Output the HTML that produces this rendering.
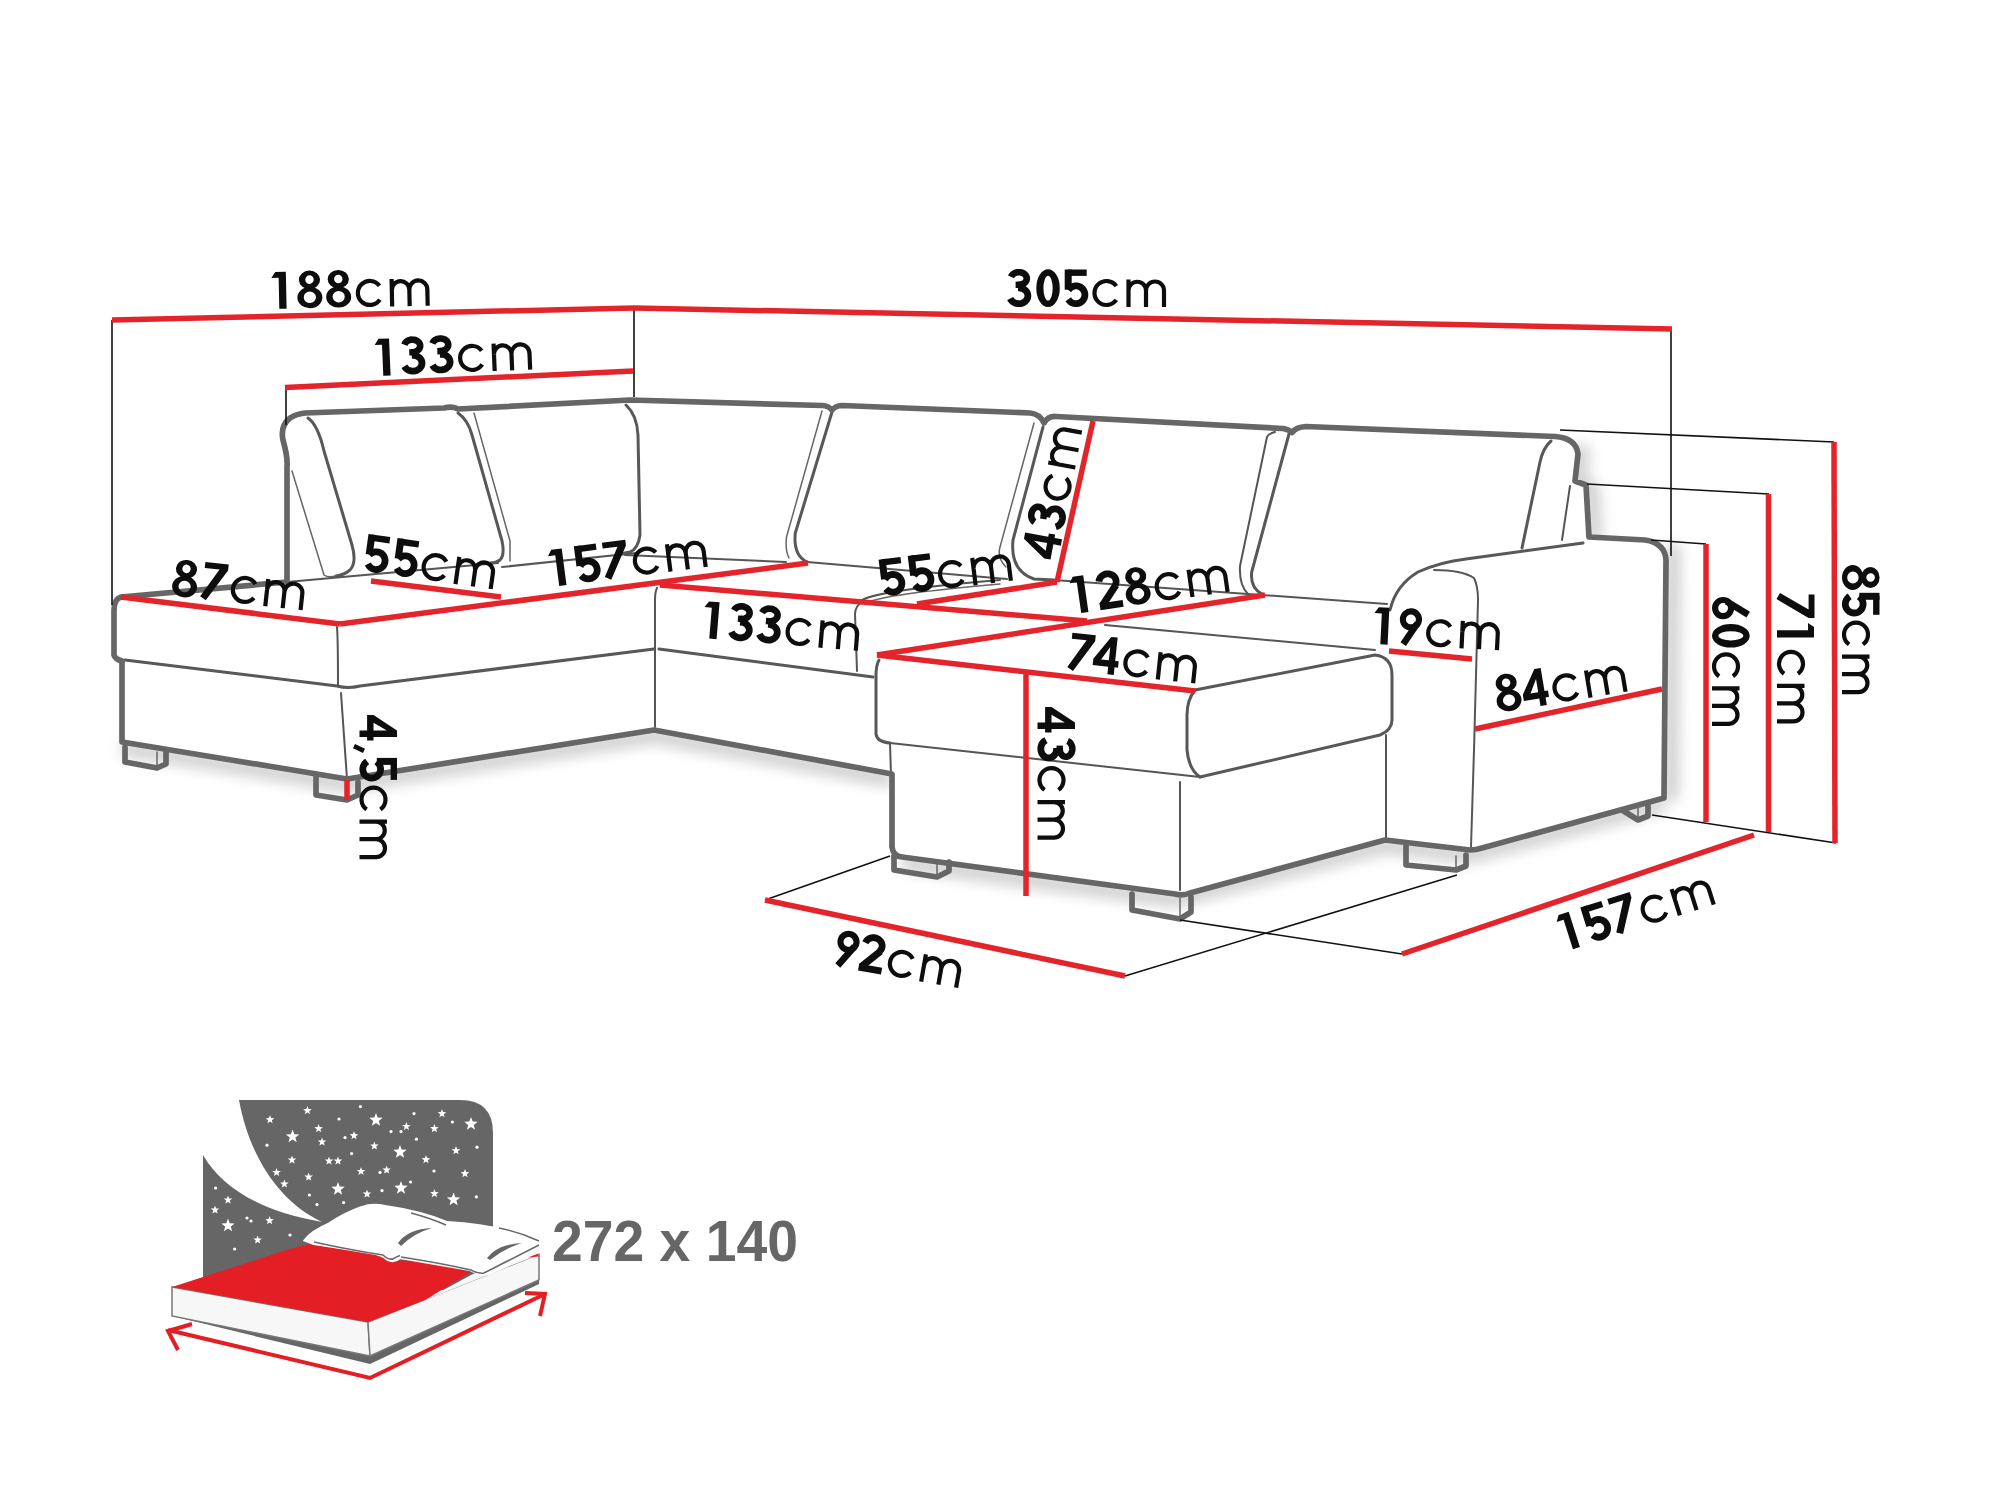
<!DOCTYPE html>
<html><head><meta charset="utf-8"><style>html,body{margin:0;padding:0;background:#fff;width:2000px;height:1500px;overflow:hidden}svg{display:block}</style></head>
<body><svg width="2000" height="1500" viewBox="0 0 2000 1500">
<defs><g id="cm" fill="none" stroke="#0d0d0d" stroke-width="4.2"><path d="M23.1,-20.9 A12,12 0 1 0 23.1,-7.1"/><path d="M35.3,0 V-27.5 M35.3,-16.5 A8.75,8.75 0 0 1 52.8,-16.5 V0 M52.8,-16.5 A9,9 0 0 1 70.8,-16.5 V0"/></g>
<filter id="sh" x="-20%" y="-20%" width="140%" height="140%"><feGaussianBlur stdDeviation="7"/></filter>
<style>.d{font-family:"Liberation Sans",sans-serif;font-weight:bold;font-size:53.5px;fill:#0d0d0d;stroke:#0d0d0d;stroke-width:0.9px}</style>
</defs>
<rect width="2000" height="1500" fill="#fff"/>
<g filter="url(#sh)" opacity="0.5" fill="none" stroke="#999" stroke-width="14"><path d="M122,748 L347,785 L654,736 L892,780"/><path d="M902,863 L1175,900 L1385,846 L1470,856 L1664,804"/><path d="M1673,545 L1671,800"/><path d="M1582,445 L1580,482 L1592,490 L1595,540"/></g>
<path d="M121,597 L287,582 L287,467 Q288,458 283,440 Q280,426 290,418 Q296,414 305,413 L444,408 Q452,406 458,409 L630,400 L822,405.5 Q829,406 832,410 Q835,406 842,405.5 L1030,413 Q1040,414 1044,423 Q1048,416 1056,416.5 L1283,428.5 Q1289,429.5 1292,432.5 Q1296,427 1306,426.5 L1555,436.5 Q1576,438 1578,454 L1575,481 L1586,485 L1589,537 L1645,540 Q1665,543 1666,560 L1664,798 L1482,848 Q1476,850 1470,850 L1385,840 L1190,893 Q1183,896 1175,894 L902,857 Q893,856 892,847 L892,774 L654,730 L347,779 L122,742 L122,661 Q115,659 114,655 L114,610 Q114,599 121,597 Z" fill="#fff"/>
<g fill="none" stroke-linejoin="round"><path d="M125,660 L337,686 Q348,689 360,686 L654,649" stroke="#585858" stroke-width="3.0" stroke-linecap="round"/><path d="M337,627 Q338,640 338,686" stroke="#555" stroke-width="2.0" stroke-linecap="round"/><path d="M341,693 L347,779" stroke="#555" stroke-width="2.0" stroke-linecap="round"/><path d="M308,418 Q318,425 324,451 L352,545 Q357,563 350,570 Q344,575 336,576" stroke="#585858" stroke-width="3.0" stroke-linecap="round"/><path d="M292,471 L324,575 Q328,578 336,576" stroke="#666" stroke-width="1.5" stroke-linecap="round"/><path d="M287,582 L498,563" stroke="#555" stroke-width="2.0" stroke-linecap="round"/><path d="M458,413 Q468,420 472,435 L502,541 Q505,555 500,560 Q496,563 490,563" stroke="#585858" stroke-width="3.0" stroke-linecap="round"/><path d="M474,413 L510,541 L510,561" stroke="#666" stroke-width="1.5" stroke-linecap="round"/><path d="M502,567 L636,553" stroke="#555" stroke-width="2.0" stroke-linecap="round"/><path d="M626,405 Q637,415 638,435 L640,535 Q638,549 630,552 L620,554" stroke="#585858" stroke-width="3.0" stroke-linecap="round"/><path d="M625,555 L786,562" stroke="#555" stroke-width="2.0" stroke-linecap="round"/><path d="M807,562 L1007,579" stroke="#555" stroke-width="2.0" stroke-linecap="round"/><path d="M1054,580 L1387,604" stroke="#555" stroke-width="2.0" stroke-linecap="round"/><path d="M832,412 L795.3,533 Q793,555 807,562" stroke="#585858" stroke-width="3.0" stroke-linecap="round"/><path d="M822,411 L786.5,537 Q785,550 789,558" stroke="#666" stroke-width="1.5" stroke-linecap="round"/><path d="M1043,427 L1013,540 Q1010,571 1034,579 L1054,580" stroke="#585858" stroke-width="3.0" stroke-linecap="round"/><path d="M1034,423 L1000,547 Q997,558 1006,567" stroke="#666" stroke-width="1.5" stroke-linecap="round"/><path d="M1289,434 L1251.7,572 Q1250,588 1262,594" stroke="#585858" stroke-width="3.0" stroke-linecap="round"/><path d="M1275,432 Q1268,434 1267,437 L1240,566 Q1239,585 1248,594" stroke="#555" stroke-width="2.0" stroke-linecap="round"/><path d="M1551,441 Q1543,448 1540,462 L1522,548" stroke="#585858" stroke-width="3.0" stroke-linecap="round"/><path d="M1570,486 L1562,540" stroke="#555" stroke-width="2.0" stroke-linecap="round"/><path d="M657,588 Q655,592 655,600 L655,727" stroke="#555" stroke-width="2.0" stroke-linecap="round"/><path d="M659,649 L873,677" stroke="#585858" stroke-width="3.0" stroke-linecap="round"/><path d="M863,601 Q855,606 855,614 L857,671" stroke="#555" stroke-width="2.0" stroke-linecap="round"/><path d="M862,600 Q880,590 1000,580" stroke="#555" stroke-width="2.0" stroke-linecap="round"/><path d="M866,603 Q884,594 1000,584" stroke="#666" stroke-width="1.5" stroke-linecap="round"/><path d="M879,660 Q876,665 876,676 L876,734 Q877,742 890,743" stroke="#585858" stroke-width="3.0" stroke-linecap="round"/><path d="M890,743 L891,775" stroke="#555" stroke-width="2.0" stroke-linecap="round"/><path d="M890,743 L1200,777" stroke="#555" stroke-width="2.0" stroke-linecap="round"/><path d="M1105,625 L1375,650" stroke="#555" stroke-width="2.0" stroke-linecap="round"/><path d="M1195,690 L1375,655 Q1392,657 1392,675 L1392,720 Q1392,730 1380,735 L1200,777" stroke="#585858" stroke-width="3.0" stroke-linecap="round"/><path d="M1195,690 Q1187,700 1187,715 L1187,750 Q1189,770 1200,777" stroke="#585858" stroke-width="3.0" stroke-linecap="round"/><path d="M1180,782 L1180,890" stroke="#555" stroke-width="2.0" stroke-linecap="round"/><path d="M1386,735 L1386,840" stroke="#555" stroke-width="2.0" stroke-linecap="round"/><path d="M1390,610 Q1396,585 1418,572 Q1440,562 1466,559 L1583,543" stroke="#585858" stroke-width="3.0" stroke-linecap="round"/><path d="M1434,570 Q1462,570 1474,578 Q1478,586 1478,600 L1474,750 L1471,847" stroke="#555" stroke-width="2.0" stroke-linecap="round"/><path d="M157,752 L157,767" stroke="#666" stroke-width="1.5" stroke-linecap="round"/><path d="M347,782 L347,799" stroke="#666" stroke-width="1.5" stroke-linecap="round"/><path d="M937,862 L937,877" stroke="#666" stroke-width="1.5" stroke-linecap="round"/><path d="M1180,898 L1180,918" stroke="#666" stroke-width="1.5" stroke-linecap="round"/><path d="M1456,856 L1456,869" stroke="#666" stroke-width="1.5" stroke-linecap="round"/><path d="M1638,808 L1638,819" stroke="#666" stroke-width="1.5" stroke-linecap="round"/><path d="M121,597 L287,582 L287,467 Q288,458 283,440 Q280,426 290,418 Q296,414 305,413 L444,408 Q452,406 458,409 L630,400 L822,405.5 Q829,406 832,410 Q835,406 842,405.5 L1030,413 Q1040,414 1044,423 Q1048,416 1056,416.5 L1283,428.5 Q1289,429.5 1292,432.5 Q1296,427 1306,426.5 L1555,436.5 Q1576,438 1578,454 L1575,481 L1586,485 L1589,537 L1645,540 Q1665,543 1666,560 L1664,798 L1482,848 Q1476,850 1470,850 L1385,840 L1190,893 Q1183,896 1175,894 L902,857 Q893,856 892,847 L892,774 L654,730 L347,779 L122,742 L122,661 Q115,659 114,655 L114,610 Q114,599 121,597 Z" stroke="#666" stroke-width="5.7" stroke-linecap="round"/><path d="M125,747 L125,762 L157,768 L166,764 L166,752" stroke="#666" stroke-width="5.7" stroke-linecap="round"/><path d="M316,777 L316,795 L347,800 L358,795 L358,782" stroke="#666" stroke-width="5.7" stroke-linecap="round"/><path d="M894,856 L894,870 L937,877 L949,871 L949,862" stroke="#666" stroke-width="5.7" stroke-linecap="round"/><path d="M1132,894 L1132,910 L1180,919 L1191,912 L1191,897" stroke="#666" stroke-width="5.7" stroke-linecap="round"/><path d="M1406,846 L1406,865 L1456,870 L1466,866 L1466,855" stroke="#666" stroke-width="5.7" stroke-linecap="round"/><path d="M1622,810 L1638,820 L1648,816 L1648,806" stroke="#666" stroke-width="5.7" stroke-linecap="round"/></g>
<g fill="none" stroke="#111" stroke-width="1.6"><path d="M112,320 L112,605"/><path d="M286,387 L286,425"/><path d="M634,308 L634,397"/><path d="M1671,329 L1671,556"/><path d="M1560,430 L1834,442"/><path d="M1587,484 L1769,494"/><path d="M1651,540 L1706,544"/><path d="M1652,815 L1836,843"/><path d="M765,900 L890,856"/><path d="M1125,976 L1457,875"/><path d="M1180,920 L1402,954"/></g>
<g fill="none" stroke="#e3242b" stroke-width="5.5"><path d="M112,320 L634,308"/><path d="M634,308 L1672,329"/><path d="M285,387.5 L633,371"/><path d="M121,597 L340,624"/><path d="M340,624 L808,563"/><path d="M371,581 L501,597"/><path d="M660,585 L1087,621"/><path d="M917,604 L1057,582"/><path d="M1057,582 L1093,421"/><path d="M877,655 L1265,595"/><path d="M877,655 L1195,691"/><path d="M1026,674 L1026,896"/><path d="M765,900 L1125,976"/><path d="M1389,651 L1472,659"/><path d="M1475,729 L1662,689"/><path d="M1706,544 L1706,822"/><path d="M1768.5,494 L1768.5,832"/><path d="M1834,442 L1835,843"/><path d="M1402,954 L1754,835"/><path d="M347,780 L347,800"/></g>
<g transform="translate(272,309) rotate(-1.2)"><g fill="#0d0d0d" stroke="#0d0d0d"><g transform="translate(0.00,0)"><path d="M4,-37 L14.6,-37 L14.6,0 L7.3,0 L7.3,-31 L0,-31 Z" stroke="none" fill-rule="evenodd"/></g><g transform="translate(25.60,0)"><path d="M12.50,-37.60 A10.6,9.2 0 0 1 12.50,-19.20 A10.6,9.2 0 0 1 12.50,-37.60 ZM12.50,-21.40 A12.5,10.7 0 0 1 12.50,0.00 A12.5,10.7 0 0 1 12.50,-21.40 ZM12.50,-32.90 A4.2,4.3 0 0 0 12.50,-24.30 A4.2,4.3 0 0 0 12.50,-32.90 ZM12.50,-16.60 A6.1,5.7 0 0 0 12.50,-5.20 A6.1,5.7 0 0 0 12.50,-16.60 Z" stroke="none" fill-rule="nonzero"/></g><g transform="translate(54.40,0)"><path d="M12.50,-37.60 A10.6,9.2 0 0 1 12.50,-19.20 A10.6,9.2 0 0 1 12.50,-37.60 ZM12.50,-21.40 A12.5,10.7 0 0 1 12.50,0.00 A12.5,10.7 0 0 1 12.50,-21.40 ZM12.50,-32.90 A4.2,4.3 0 0 0 12.50,-24.30 A4.2,4.3 0 0 0 12.50,-32.90 ZM12.50,-16.60 A6.1,5.7 0 0 0 12.50,-5.20 A6.1,5.7 0 0 0 12.50,-16.60 Z" stroke="none" fill-rule="nonzero"/></g></g><use href="#cm" x="84.90" y="0"/></g><g transform="translate(376,376) rotate(-2.4)"><g fill="#0d0d0d" stroke="#0d0d0d"><g transform="translate(0.00,0)"><path d="M4,-37 L14.6,-37 L14.6,0 L7.3,0 L7.3,-31 L0,-31 Z" stroke="none" fill-rule="evenodd"/></g><g transform="translate(25.60,0)"><path d="M4.07,-30.13 L4.51,-31.09 L5.13,-31.98 L5.94,-32.79 L6.89,-33.47 L7.97,-34.03 L9.16,-34.45 L10.41,-34.70 L11.70,-34.80 L12.99,-34.73 L14.25,-34.50 L15.45,-34.11 L16.55,-33.57 L17.53,-32.90 L18.35,-32.11 L19.01,-31.23 L19.47,-30.28 L19.74,-29.28 L19.79,-28.26 L19.64,-27.25 L19.28,-26.27 L18.73,-25.35 L17.99,-24.51 L17.09,-23.78 L16.06,-23.17 L14.91,-22.69 L13.68,-22.38 L12.40,-22.22 L11.10,-22.22" fill="none" stroke-width="6.6"/><path d="M11.01,-19.07 L12.45,-19.08 L13.88,-18.89 L15.26,-18.51 L16.55,-17.94 L17.71,-17.20 L18.73,-16.32 L19.58,-15.30 L20.23,-14.18 L20.67,-12.98 L20.88,-11.74 L20.86,-10.49 L20.62,-9.25 L20.15,-8.06 L19.47,-6.96 L18.60,-5.95 L17.56,-5.09 L16.37,-4.37 L15.07,-3.83 L13.69,-3.47 L12.25,-3.31 L10.81,-3.35 L9.39,-3.58 L8.03,-4.01 L6.77,-4.62 L5.63,-5.39 L4.65,-6.31 L3.85,-7.36 L3.25,-8.50" fill="none" stroke-width="6.8"/><path d="M8.6,-22.2 L12.5,-22.2" fill="none" stroke-width="6.4"/></g><g transform="translate(53.70,0)"><path d="M4.07,-30.13 L4.51,-31.09 L5.13,-31.98 L5.94,-32.79 L6.89,-33.47 L7.97,-34.03 L9.16,-34.45 L10.41,-34.70 L11.70,-34.80 L12.99,-34.73 L14.25,-34.50 L15.45,-34.11 L16.55,-33.57 L17.53,-32.90 L18.35,-32.11 L19.01,-31.23 L19.47,-30.28 L19.74,-29.28 L19.79,-28.26 L19.64,-27.25 L19.28,-26.27 L18.73,-25.35 L17.99,-24.51 L17.09,-23.78 L16.06,-23.17 L14.91,-22.69 L13.68,-22.38 L12.40,-22.22 L11.10,-22.22" fill="none" stroke-width="6.6"/><path d="M11.01,-19.07 L12.45,-19.08 L13.88,-18.89 L15.26,-18.51 L16.55,-17.94 L17.71,-17.20 L18.73,-16.32 L19.58,-15.30 L20.23,-14.18 L20.67,-12.98 L20.88,-11.74 L20.86,-10.49 L20.62,-9.25 L20.15,-8.06 L19.47,-6.96 L18.60,-5.95 L17.56,-5.09 L16.37,-4.37 L15.07,-3.83 L13.69,-3.47 L12.25,-3.31 L10.81,-3.35 L9.39,-3.58 L8.03,-4.01 L6.77,-4.62 L5.63,-5.39 L4.65,-6.31 L3.85,-7.36 L3.25,-8.50" fill="none" stroke-width="6.8"/><path d="M8.6,-22.2 L12.5,-22.2" fill="none" stroke-width="6.4"/></g></g><use href="#cm" x="83.50" y="0"/></g><g transform="translate(1007,307) rotate(0)"><g fill="#0d0d0d" stroke="#0d0d0d"><g transform="translate(0.00,0)"><path d="M4.07,-30.13 L4.51,-31.09 L5.13,-31.98 L5.94,-32.79 L6.89,-33.47 L7.97,-34.03 L9.16,-34.45 L10.41,-34.70 L11.70,-34.80 L12.99,-34.73 L14.25,-34.50 L15.45,-34.11 L16.55,-33.57 L17.53,-32.90 L18.35,-32.11 L19.01,-31.23 L19.47,-30.28 L19.74,-29.28 L19.79,-28.26 L19.64,-27.25 L19.28,-26.27 L18.73,-25.35 L17.99,-24.51 L17.09,-23.78 L16.06,-23.17 L14.91,-22.69 L13.68,-22.38 L12.40,-22.22 L11.10,-22.22" fill="none" stroke-width="6.6"/><path d="M11.01,-19.07 L12.45,-19.08 L13.88,-18.89 L15.26,-18.51 L16.55,-17.94 L17.71,-17.20 L18.73,-16.32 L19.58,-15.30 L20.23,-14.18 L20.67,-12.98 L20.88,-11.74 L20.86,-10.49 L20.62,-9.25 L20.15,-8.06 L19.47,-6.96 L18.60,-5.95 L17.56,-5.09 L16.37,-4.37 L15.07,-3.83 L13.69,-3.47 L12.25,-3.31 L10.81,-3.35 L9.39,-3.58 L8.03,-4.01 L6.77,-4.62 L5.63,-5.39 L4.65,-6.31 L3.85,-7.36 L3.25,-8.50" fill="none" stroke-width="6.8"/><path d="M8.6,-22.2 L12.5,-22.2" fill="none" stroke-width="6.4"/></g><g transform="translate(29.30,0)"><path d="M11.75,-37.70 A11.75,18.85 0 0 1 11.75,0.00 A11.75,18.85 0 0 1 11.75,-37.70 ZM11.75,-31.25 A4.6,12.4 0 0 0 11.75,-6.45 A4.6,12.4 0 0 0 11.75,-31.25 Z" stroke="none" fill-rule="nonzero"/></g><g transform="translate(56.40,0)"><path d="M4.6,-34.3 L23.3,-34.3" fill="none" stroke-width="6.4"/><path d="M4.8,-37.5 L4.8,-17.3" fill="none" stroke-width="7.0"/><path d="M5.05,-16.92 L6.05,-18.23 L7.28,-19.33 L8.69,-20.19 L10.23,-20.78 L11.86,-21.07 L13.51,-21.05 L15.13,-20.73 L16.66,-20.12 L18.05,-19.23 L19.26,-18.11 L20.23,-16.77 L20.95,-15.29 L21.37,-13.69 L21.50,-12.04 L21.32,-10.40 L20.84,-8.82 L20.07,-7.36 L19.05,-6.07 L17.80,-4.98 L16.38,-4.14 L14.83,-3.58 L13.20,-3.32 L11.55,-3.36 L9.93,-3.71 L8.41,-4.35 L7.03,-5.26 L5.85,-6.40 L4.89,-7.75" fill="none" stroke-width="6.8"/></g></g><use href="#cm" x="86.20" y="0"/></g><g transform="translate(171,596) rotate(6.2)"><g fill="#0d0d0d" stroke="#0d0d0d"><g transform="translate(0.00,0)"><path d="M12.50,-37.60 A10.6,9.2 0 0 1 12.50,-19.20 A10.6,9.2 0 0 1 12.50,-37.60 ZM12.50,-21.40 A12.5,10.7 0 0 1 12.50,0.00 A12.5,10.7 0 0 1 12.50,-21.40 ZM12.50,-32.90 A4.2,4.3 0 0 0 12.50,-24.30 A4.2,4.3 0 0 0 12.50,-32.90 ZM12.50,-16.60 A6.1,5.7 0 0 0 12.50,-5.20 A6.1,5.7 0 0 0 12.50,-16.60 Z" stroke="none" fill-rule="nonzero"/></g><g transform="translate(29.00,0)"><path d="M1.5,-37.5 L25,-37.5 L25,-31.6 L6.0,0.5 L0,-3.0 L16.4,-31.6 L1.5,-31.6 Z" stroke="none" fill-rule="evenodd"/></g></g><use href="#cm" x="59.50" y="0"/></g><g transform="translate(362,571) rotate(8)"><g fill="#0d0d0d" stroke="#0d0d0d"><g transform="translate(0.00,0)"><path d="M4.6,-34.3 L23.3,-34.3" fill="none" stroke-width="6.4"/><path d="M4.8,-37.5 L4.8,-17.3" fill="none" stroke-width="7.0"/><path d="M5.05,-16.92 L6.05,-18.23 L7.28,-19.33 L8.69,-20.19 L10.23,-20.78 L11.86,-21.07 L13.51,-21.05 L15.13,-20.73 L16.66,-20.12 L18.05,-19.23 L19.26,-18.11 L20.23,-16.77 L20.95,-15.29 L21.37,-13.69 L21.50,-12.04 L21.32,-10.40 L20.84,-8.82 L20.07,-7.36 L19.05,-6.07 L17.80,-4.98 L16.38,-4.14 L14.83,-3.58 L13.20,-3.32 L11.55,-3.36 L9.93,-3.71 L8.41,-4.35 L7.03,-5.26 L5.85,-6.40 L4.89,-7.75" fill="none" stroke-width="6.8"/></g><g transform="translate(29.30,0)"><path d="M4.6,-34.3 L23.3,-34.3" fill="none" stroke-width="6.4"/><path d="M4.8,-37.5 L4.8,-17.3" fill="none" stroke-width="7.0"/><path d="M5.05,-16.92 L6.05,-18.23 L7.28,-19.33 L8.69,-20.19 L10.23,-20.78 L11.86,-21.07 L13.51,-21.05 L15.13,-20.73 L16.66,-20.12 L18.05,-19.23 L19.26,-18.11 L20.23,-16.77 L20.95,-15.29 L21.37,-13.69 L21.50,-12.04 L21.32,-10.40 L20.84,-8.82 L20.07,-7.36 L19.05,-6.07 L17.80,-4.98 L16.38,-4.14 L14.83,-3.58 L13.20,-3.32 L11.55,-3.36 L9.93,-3.71 L8.41,-4.35 L7.03,-5.26 L5.85,-6.40 L4.89,-7.75" fill="none" stroke-width="6.8"/></g></g><use href="#cm" x="59.10" y="0"/></g><g transform="translate(552,587) rotate(-7.4)"><g fill="#0d0d0d" stroke="#0d0d0d"><g transform="translate(0.00,0)"><path d="M4,-37 L14.6,-37 L14.6,0 L7.3,0 L7.3,-31 L0,-31 Z" stroke="none" fill-rule="evenodd"/></g><g transform="translate(25.60,0)"><path d="M4.6,-34.3 L23.3,-34.3" fill="none" stroke-width="6.4"/><path d="M4.8,-37.5 L4.8,-17.3" fill="none" stroke-width="7.0"/><path d="M5.05,-16.92 L6.05,-18.23 L7.28,-19.33 L8.69,-20.19 L10.23,-20.78 L11.86,-21.07 L13.51,-21.05 L15.13,-20.73 L16.66,-20.12 L18.05,-19.23 L19.26,-18.11 L20.23,-16.77 L20.95,-15.29 L21.37,-13.69 L21.50,-12.04 L21.32,-10.40 L20.84,-8.82 L20.07,-7.36 L19.05,-6.07 L17.80,-4.98 L16.38,-4.14 L14.83,-3.58 L13.20,-3.32 L11.55,-3.36 L9.93,-3.71 L8.41,-4.35 L7.03,-5.26 L5.85,-6.40 L4.89,-7.75" fill="none" stroke-width="6.8"/></g><g transform="translate(53.70,0)"><path d="M1.5,-37.5 L25,-37.5 L25,-31.6 L6.0,0.5 L0,-3.0 L16.4,-31.6 L1.5,-31.6 Z" stroke="none" fill-rule="evenodd"/></g></g><use href="#cm" x="84.20" y="0"/></g><g transform="translate(882,597) rotate(-7.2)"><g fill="#0d0d0d" stroke="#0d0d0d"><g transform="translate(0.00,0)"><path d="M4.6,-34.3 L23.3,-34.3" fill="none" stroke-width="6.4"/><path d="M4.8,-37.5 L4.8,-17.3" fill="none" stroke-width="7.0"/><path d="M5.05,-16.92 L6.05,-18.23 L7.28,-19.33 L8.69,-20.19 L10.23,-20.78 L11.86,-21.07 L13.51,-21.05 L15.13,-20.73 L16.66,-20.12 L18.05,-19.23 L19.26,-18.11 L20.23,-16.77 L20.95,-15.29 L21.37,-13.69 L21.50,-12.04 L21.32,-10.40 L20.84,-8.82 L20.07,-7.36 L19.05,-6.07 L17.80,-4.98 L16.38,-4.14 L14.83,-3.58 L13.20,-3.32 L11.55,-3.36 L9.93,-3.71 L8.41,-4.35 L7.03,-5.26 L5.85,-6.40 L4.89,-7.75" fill="none" stroke-width="6.8"/></g><g transform="translate(29.30,0)"><path d="M4.6,-34.3 L23.3,-34.3" fill="none" stroke-width="6.4"/><path d="M4.8,-37.5 L4.8,-17.3" fill="none" stroke-width="7.0"/><path d="M5.05,-16.92 L6.05,-18.23 L7.28,-19.33 L8.69,-20.19 L10.23,-20.78 L11.86,-21.07 L13.51,-21.05 L15.13,-20.73 L16.66,-20.12 L18.05,-19.23 L19.26,-18.11 L20.23,-16.77 L20.95,-15.29 L21.37,-13.69 L21.50,-12.04 L21.32,-10.40 L20.84,-8.82 L20.07,-7.36 L19.05,-6.07 L17.80,-4.98 L16.38,-4.14 L14.83,-3.58 L13.20,-3.32 L11.55,-3.36 L9.93,-3.71 L8.41,-4.35 L7.03,-5.26 L5.85,-6.40 L4.89,-7.75" fill="none" stroke-width="6.8"/></g></g><use href="#cm" x="59.10" y="0"/></g><g transform="translate(1058,561) rotate(-79.5)"><g fill="#0d0d0d" stroke="#0d0d0d"><g transform="translate(0.00,0)"><path d="M15.6,-37.5 L22.0,-37.5 L22.0,-14 L25.5,-14 L25.5,-7.6 L22.0,-7.6 L22.0,0 L15.6,0 L15.6,-7.6 L0,-7.6 L0,-14 Z M15.6,-27.3 L7.8,-14 L15.6,-14 Z" stroke="none" fill-rule="evenodd"/></g><g transform="translate(30.00,0)"><path d="M4.07,-30.13 L4.51,-31.09 L5.13,-31.98 L5.94,-32.79 L6.89,-33.47 L7.97,-34.03 L9.16,-34.45 L10.41,-34.70 L11.70,-34.80 L12.99,-34.73 L14.25,-34.50 L15.45,-34.11 L16.55,-33.57 L17.53,-32.90 L18.35,-32.11 L19.01,-31.23 L19.47,-30.28 L19.74,-29.28 L19.79,-28.26 L19.64,-27.25 L19.28,-26.27 L18.73,-25.35 L17.99,-24.51 L17.09,-23.78 L16.06,-23.17 L14.91,-22.69 L13.68,-22.38 L12.40,-22.22 L11.10,-22.22" fill="none" stroke-width="6.6"/><path d="M11.01,-19.07 L12.45,-19.08 L13.88,-18.89 L15.26,-18.51 L16.55,-17.94 L17.71,-17.20 L18.73,-16.32 L19.58,-15.30 L20.23,-14.18 L20.67,-12.98 L20.88,-11.74 L20.86,-10.49 L20.62,-9.25 L20.15,-8.06 L19.47,-6.96 L18.60,-5.95 L17.56,-5.09 L16.37,-4.37 L15.07,-3.83 L13.69,-3.47 L12.25,-3.31 L10.81,-3.35 L9.39,-3.58 L8.03,-4.01 L6.77,-4.62 L5.63,-5.39 L4.65,-6.31 L3.85,-7.36 L3.25,-8.50" fill="none" stroke-width="6.8"/><path d="M8.6,-22.2 L12.5,-22.2" fill="none" stroke-width="6.4"/></g></g><use href="#cm" x="59.80" y="0"/></g><g transform="translate(1074,614) rotate(-8.2)"><g fill="#0d0d0d" stroke="#0d0d0d"><g transform="translate(0.00,0)"><path d="M4,-37 L14.6,-37 L14.6,0 L7.3,0 L7.3,-31 L0,-31 Z" stroke="none" fill-rule="evenodd"/></g><g transform="translate(25.60,0)"><path d="M3.73,-28.55 L3.99,-29.52 L4.38,-30.45 L4.90,-31.33 L5.54,-32.14 L6.29,-32.87 L7.14,-33.50 L8.06,-34.04 L9.06,-34.46 L10.10,-34.76 L11.18,-34.95 L12.28,-35.00 L13.38,-34.93 L14.45,-34.73 L15.49,-34.41 L16.48,-33.97 L17.39,-33.42 L18.22,-32.77 L18.96,-32.03 L19.58,-31.20 L20.08,-30.32 L20.46,-29.38 L20.70,-28.41 L20.80,-27.42 L20.76,-26.42 L20.58,-25.44 L20.26,-24.49 L19.82,-23.58 L19.24,-22.73" fill="none" stroke-width="6.8"/><path d="M20.0,-22.8 L3.6,-4.2" fill="none" stroke-width="7.2"/><path d="M1.2,-3.4 L24.5,-3.4" fill="none" stroke-width="6.8"/></g><g transform="translate(53.90,0)"><path d="M12.50,-37.60 A10.6,9.2 0 0 1 12.50,-19.20 A10.6,9.2 0 0 1 12.50,-37.60 ZM12.50,-21.40 A12.5,10.7 0 0 1 12.50,0.00 A12.5,10.7 0 0 1 12.50,-21.40 ZM12.50,-32.90 A4.2,4.3 0 0 0 12.50,-24.30 A4.2,4.3 0 0 0 12.50,-32.90 ZM12.50,-16.60 A6.1,5.7 0 0 0 12.50,-5.20 A6.1,5.7 0 0 0 12.50,-16.60 Z" stroke="none" fill-rule="nonzero"/></g></g><use href="#cm" x="84.40" y="0"/></g><g transform="translate(702,638) rotate(4.7)"><g fill="#0d0d0d" stroke="#0d0d0d"><g transform="translate(0.00,0)"><path d="M4,-37 L14.6,-37 L14.6,0 L7.3,0 L7.3,-31 L0,-31 Z" stroke="none" fill-rule="evenodd"/></g><g transform="translate(25.60,0)"><path d="M4.07,-30.13 L4.51,-31.09 L5.13,-31.98 L5.94,-32.79 L6.89,-33.47 L7.97,-34.03 L9.16,-34.45 L10.41,-34.70 L11.70,-34.80 L12.99,-34.73 L14.25,-34.50 L15.45,-34.11 L16.55,-33.57 L17.53,-32.90 L18.35,-32.11 L19.01,-31.23 L19.47,-30.28 L19.74,-29.28 L19.79,-28.26 L19.64,-27.25 L19.28,-26.27 L18.73,-25.35 L17.99,-24.51 L17.09,-23.78 L16.06,-23.17 L14.91,-22.69 L13.68,-22.38 L12.40,-22.22 L11.10,-22.22" fill="none" stroke-width="6.6"/><path d="M11.01,-19.07 L12.45,-19.08 L13.88,-18.89 L15.26,-18.51 L16.55,-17.94 L17.71,-17.20 L18.73,-16.32 L19.58,-15.30 L20.23,-14.18 L20.67,-12.98 L20.88,-11.74 L20.86,-10.49 L20.62,-9.25 L20.15,-8.06 L19.47,-6.96 L18.60,-5.95 L17.56,-5.09 L16.37,-4.37 L15.07,-3.83 L13.69,-3.47 L12.25,-3.31 L10.81,-3.35 L9.39,-3.58 L8.03,-4.01 L6.77,-4.62 L5.63,-5.39 L4.65,-6.31 L3.85,-7.36 L3.25,-8.50" fill="none" stroke-width="6.8"/><path d="M8.6,-22.2 L12.5,-22.2" fill="none" stroke-width="6.4"/></g><g transform="translate(53.70,0)"><path d="M4.07,-30.13 L4.51,-31.09 L5.13,-31.98 L5.94,-32.79 L6.89,-33.47 L7.97,-34.03 L9.16,-34.45 L10.41,-34.70 L11.70,-34.80 L12.99,-34.73 L14.25,-34.50 L15.45,-34.11 L16.55,-33.57 L17.53,-32.90 L18.35,-32.11 L19.01,-31.23 L19.47,-30.28 L19.74,-29.28 L19.79,-28.26 L19.64,-27.25 L19.28,-26.27 L18.73,-25.35 L17.99,-24.51 L17.09,-23.78 L16.06,-23.17 L14.91,-22.69 L13.68,-22.38 L12.40,-22.22 L11.10,-22.22" fill="none" stroke-width="6.6"/><path d="M11.01,-19.07 L12.45,-19.08 L13.88,-18.89 L15.26,-18.51 L16.55,-17.94 L17.71,-17.20 L18.73,-16.32 L19.58,-15.30 L20.23,-14.18 L20.67,-12.98 L20.88,-11.74 L20.86,-10.49 L20.62,-9.25 L20.15,-8.06 L19.47,-6.96 L18.60,-5.95 L17.56,-5.09 L16.37,-4.37 L15.07,-3.83 L13.69,-3.47 L12.25,-3.31 L10.81,-3.35 L9.39,-3.58 L8.03,-4.01 L6.77,-4.62 L5.63,-5.39 L4.65,-6.31 L3.85,-7.36 L3.25,-8.50" fill="none" stroke-width="6.8"/><path d="M8.6,-22.2 L12.5,-22.2" fill="none" stroke-width="6.4"/></g></g><use href="#cm" x="83.50" y="0"/></g><g transform="translate(1067,670) rotate(6)"><g fill="#0d0d0d" stroke="#0d0d0d"><g transform="translate(0.00,0)"><path d="M1.5,-37.5 L25,-37.5 L25,-31.6 L6.0,0.5 L0,-3.0 L16.4,-31.6 L1.5,-31.6 Z" stroke="none" fill-rule="evenodd"/></g><g transform="translate(25.00,0)"><path d="M15.6,-37.5 L22.0,-37.5 L22.0,-14 L25.5,-14 L25.5,-7.6 L22.0,-7.6 L22.0,0 L15.6,0 L15.6,-7.6 L0,-7.6 L0,-14 Z M15.6,-27.3 L7.8,-14 L15.6,-14 Z" stroke="none" fill-rule="evenodd"/></g></g><use href="#cm" x="56.00" y="0"/></g><g transform="translate(1373,644) rotate(2.8)"><g fill="#0d0d0d" stroke="#0d0d0d"><g transform="translate(0.00,0)"><path d="M4,-37 L14.6,-37 L14.6,0 L7.3,0 L7.3,-31 L0,-31 Z" stroke="none" fill-rule="evenodd"/></g><g transform="translate(25.60,0)"><path d="M17.8,-22.9 L4.6,-1.3" fill="none" stroke-width="6.6"/><path d="M11.10,-37.50 A11.1,11.1 0 0 1 11.10,-15.30 A11.1,11.1 0 0 1 11.10,-37.50 ZM11.10,-31.30 A5.0,4.9 0 0 0 11.10,-21.50 A5.0,4.9 0 0 0 11.10,-31.30 Z" stroke="none" fill-rule="nonzero"/></g></g><use href="#cm" x="53.30" y="0"/></g><g transform="translate(1498.5,713) rotate(-9.5)"><g fill="#0d0d0d" stroke="#0d0d0d"><g transform="translate(0.00,0)"><path d="M12.50,-37.60 A10.6,9.2 0 0 1 12.50,-19.20 A10.6,9.2 0 0 1 12.50,-37.60 ZM12.50,-21.40 A12.5,10.7 0 0 1 12.50,0.00 A12.5,10.7 0 0 1 12.50,-21.40 ZM12.50,-32.90 A4.2,4.3 0 0 0 12.50,-24.30 A4.2,4.3 0 0 0 12.50,-32.90 ZM12.50,-16.60 A6.1,5.7 0 0 0 12.50,-5.20 A6.1,5.7 0 0 0 12.50,-16.60 Z" stroke="none" fill-rule="nonzero"/></g><g transform="translate(27.00,0)"><path d="M15.6,-37.5 L22.0,-37.5 L22.0,-14 L25.5,-14 L25.5,-7.6 L22.0,-7.6 L22.0,0 L15.6,0 L15.6,-7.6 L0,-7.6 L0,-14 Z M15.6,-27.3 L7.8,-14 L15.6,-14 Z" stroke="none" fill-rule="evenodd"/></g></g><use href="#cm" x="58.00" y="0"/></g><g transform="translate(1712,597) rotate(90)"><g fill="#0d0d0d" stroke="#0d0d0d"><g transform="translate(0.00,0)"><path d="M4.4,-14.6 L17.6,-36.2" fill="none" stroke-width="6.6"/><path d="M11.10,-22.20 A11.1,11.1 0 0 1 11.10,0.00 A11.1,11.1 0 0 1 11.10,-22.20 ZM11.10,-16.00 A5.0,4.9 0 0 0 11.10,-6.20 A5.0,4.9 0 0 0 11.10,-16.00 Z" stroke="none" fill-rule="nonzero"/></g><g transform="translate(27.10,0)"><path d="M11.75,-37.70 A11.75,18.85 0 0 1 11.75,0.00 A11.75,18.85 0 0 1 11.75,-37.70 ZM11.75,-31.25 A4.6,12.4 0 0 0 11.75,-6.45 A4.6,12.4 0 0 0 11.75,-31.25 Z" stroke="none" fill-rule="nonzero"/></g></g><use href="#cm" x="56.10" y="0"/></g><g transform="translate(1777,593) rotate(90)"><g fill="#0d0d0d" stroke="#0d0d0d"><g transform="translate(0.00,0)"><path d="M1.5,-37.5 L25,-37.5 L25,-31.6 L6.0,0.5 L0,-3.0 L16.4,-31.6 L1.5,-31.6 Z" stroke="none" fill-rule="evenodd"/></g><g transform="translate(30.00,0)"><path d="M4,-37 L14.6,-37 L14.6,0 L7.3,0 L7.3,-31 L0,-31 Z" stroke="none" fill-rule="evenodd"/></g></g><use href="#cm" x="57.60" y="0"/></g><g transform="translate(1842,565) rotate(90)"><g fill="#0d0d0d" stroke="#0d0d0d"><g transform="translate(0.00,0)"><path d="M12.50,-37.60 A10.6,9.2 0 0 1 12.50,-19.20 A10.6,9.2 0 0 1 12.50,-37.60 ZM12.50,-21.40 A12.5,10.7 0 0 1 12.50,0.00 A12.5,10.7 0 0 1 12.50,-21.40 ZM12.50,-32.90 A4.2,4.3 0 0 0 12.50,-24.30 A4.2,4.3 0 0 0 12.50,-32.90 ZM12.50,-16.60 A6.1,5.7 0 0 0 12.50,-5.20 A6.1,5.7 0 0 0 12.50,-16.60 Z" stroke="none" fill-rule="nonzero"/></g><g transform="translate(26.50,0)"><path d="M4.6,-34.3 L23.3,-34.3" fill="none" stroke-width="6.4"/><path d="M4.8,-37.5 L4.8,-17.3" fill="none" stroke-width="7.0"/><path d="M5.05,-16.92 L6.05,-18.23 L7.28,-19.33 L8.69,-20.19 L10.23,-20.78 L11.86,-21.07 L13.51,-21.05 L15.13,-20.73 L16.66,-20.12 L18.05,-19.23 L19.26,-18.11 L20.23,-16.77 L20.95,-15.29 L21.37,-13.69 L21.50,-12.04 L21.32,-10.40 L20.84,-8.82 L20.07,-7.36 L19.05,-6.07 L17.80,-4.98 L16.38,-4.14 L14.83,-3.58 L13.20,-3.32 L11.55,-3.36 L9.93,-3.71 L8.41,-4.35 L7.03,-5.26 L5.85,-6.40 L4.89,-7.75" fill="none" stroke-width="6.8"/></g></g><use href="#cm" x="56.30" y="0"/></g><g transform="translate(1037.5,707) rotate(90)"><g fill="#0d0d0d" stroke="#0d0d0d"><g transform="translate(0.00,0)"><path d="M15.6,-37.5 L22.0,-37.5 L22.0,-14 L25.5,-14 L25.5,-7.6 L22.0,-7.6 L22.0,0 L15.6,0 L15.6,-7.6 L0,-7.6 L0,-14 Z M15.6,-27.3 L7.8,-14 L15.6,-14 Z" stroke="none" fill-rule="evenodd"/></g><g transform="translate(30.00,0)"><path d="M4.07,-30.13 L4.51,-31.09 L5.13,-31.98 L5.94,-32.79 L6.89,-33.47 L7.97,-34.03 L9.16,-34.45 L10.41,-34.70 L11.70,-34.80 L12.99,-34.73 L14.25,-34.50 L15.45,-34.11 L16.55,-33.57 L17.53,-32.90 L18.35,-32.11 L19.01,-31.23 L19.47,-30.28 L19.74,-29.28 L19.79,-28.26 L19.64,-27.25 L19.28,-26.27 L18.73,-25.35 L17.99,-24.51 L17.09,-23.78 L16.06,-23.17 L14.91,-22.69 L13.68,-22.38 L12.40,-22.22 L11.10,-22.22" fill="none" stroke-width="6.6"/><path d="M11.01,-19.07 L12.45,-19.08 L13.88,-18.89 L15.26,-18.51 L16.55,-17.94 L17.71,-17.20 L18.73,-16.32 L19.58,-15.30 L20.23,-14.18 L20.67,-12.98 L20.88,-11.74 L20.86,-10.49 L20.62,-9.25 L20.15,-8.06 L19.47,-6.96 L18.60,-5.95 L17.56,-5.09 L16.37,-4.37 L15.07,-3.83 L13.69,-3.47 L12.25,-3.31 L10.81,-3.35 L9.39,-3.58 L8.03,-4.01 L6.77,-4.62 L5.63,-5.39 L4.65,-6.31 L3.85,-7.36 L3.25,-8.50" fill="none" stroke-width="6.8"/><path d="M8.6,-22.2 L12.5,-22.2" fill="none" stroke-width="6.4"/></g></g><use href="#cm" x="59.80" y="0"/></g><g transform="translate(359.5,715) rotate(90)"><g fill="#0d0d0d" stroke="#0d0d0d"><g transform="translate(0.00,0)"><path d="M15.6,-37.5 L22.0,-37.5 L22.0,-14 L25.5,-14 L25.5,-7.6 L22.0,-7.6 L22.0,0 L15.6,0 L15.6,-7.6 L0,-7.6 L0,-14 Z M15.6,-27.3 L7.8,-14 L15.6,-14 Z" stroke="none" fill-rule="evenodd"/></g><g transform="translate(29.70,0)"><path d="M6.2,-4.5 L1.4,5.5" fill="none" stroke-width="4.6"/></g><g transform="translate(41.60,0)"><path d="M4.6,-34.3 L23.3,-34.3" fill="none" stroke-width="6.4"/><path d="M4.8,-37.5 L4.8,-17.3" fill="none" stroke-width="7.0"/><path d="M5.05,-16.92 L6.05,-18.23 L7.28,-19.33 L8.69,-20.19 L10.23,-20.78 L11.86,-21.07 L13.51,-21.05 L15.13,-20.73 L16.66,-20.12 L18.05,-19.23 L19.26,-18.11 L20.23,-16.77 L20.95,-15.29 L21.37,-13.69 L21.50,-12.04 L21.32,-10.40 L20.84,-8.82 L20.07,-7.36 L19.05,-6.07 L17.80,-4.98 L16.38,-4.14 L14.83,-3.58 L13.20,-3.32 L11.55,-3.36 L9.93,-3.71 L8.41,-4.35 L7.03,-5.26 L5.85,-6.40 L4.89,-7.75" fill="none" stroke-width="6.8"/></g></g><use href="#cm" x="71.40" y="0"/></g><g transform="translate(833,966) rotate(10)"><g fill="#0d0d0d" stroke="#0d0d0d"><g transform="translate(0.00,0)"><path d="M17.8,-22.9 L4.6,-1.3" fill="none" stroke-width="6.6"/><path d="M11.10,-37.50 A11.1,11.1 0 0 1 11.10,-15.30 A11.1,11.1 0 0 1 11.10,-37.50 ZM11.10,-31.30 A5.0,4.9 0 0 0 11.10,-21.50 A5.0,4.9 0 0 0 11.10,-31.30 Z" stroke="none" fill-rule="nonzero"/></g><g transform="translate(24.20,0)"><path d="M3.73,-28.55 L3.99,-29.52 L4.38,-30.45 L4.90,-31.33 L5.54,-32.14 L6.29,-32.87 L7.14,-33.50 L8.06,-34.04 L9.06,-34.46 L10.10,-34.76 L11.18,-34.95 L12.28,-35.00 L13.38,-34.93 L14.45,-34.73 L15.49,-34.41 L16.48,-33.97 L17.39,-33.42 L18.22,-32.77 L18.96,-32.03 L19.58,-31.20 L20.08,-30.32 L20.46,-29.38 L20.70,-28.41 L20.80,-27.42 L20.76,-26.42 L20.58,-25.44 L20.26,-24.49 L19.82,-23.58 L19.24,-22.73" fill="none" stroke-width="6.8"/><path d="M20.0,-22.8 L3.6,-4.2" fill="none" stroke-width="7.2"/><path d="M1.2,-3.4 L24.5,-3.4" fill="none" stroke-width="6.8"/></g></g><use href="#cm" x="54.20" y="0"/></g><g transform="translate(1566,951.5) rotate(-17.6)"><g fill="#0d0d0d" stroke="#0d0d0d"><g transform="translate(0.00,0)"><path d="M4,-37 L14.6,-37 L14.6,0 L7.3,0 L7.3,-31 L0,-31 Z" stroke="none" fill-rule="evenodd"/></g><g transform="translate(25.60,0)"><path d="M4.6,-34.3 L23.3,-34.3" fill="none" stroke-width="6.4"/><path d="M4.8,-37.5 L4.8,-17.3" fill="none" stroke-width="7.0"/><path d="M5.05,-16.92 L6.05,-18.23 L7.28,-19.33 L8.69,-20.19 L10.23,-20.78 L11.86,-21.07 L13.51,-21.05 L15.13,-20.73 L16.66,-20.12 L18.05,-19.23 L19.26,-18.11 L20.23,-16.77 L20.95,-15.29 L21.37,-13.69 L21.50,-12.04 L21.32,-10.40 L20.84,-8.82 L20.07,-7.36 L19.05,-6.07 L17.80,-4.98 L16.38,-4.14 L14.83,-3.58 L13.20,-3.32 L11.55,-3.36 L9.93,-3.71 L8.41,-4.35 L7.03,-5.26 L5.85,-6.40 L4.89,-7.75" fill="none" stroke-width="6.8"/></g><g transform="translate(53.70,0)"><path d="M1.5,-37.5 L25,-37.5 L25,-31.6 L6.0,0.5 L0,-3.0 L16.4,-31.6 L1.5,-31.6 Z" stroke="none" fill-rule="evenodd"/></g></g><use href="#cm" x="84.20" y="0"/></g>
<path d="M203,1100 H460 Q493,1100 493,1133 V1290 H203 Z" fill="#666"/><path d="M150,1090 H239 V1100 C248,1150 275,1200 322,1222 C262,1212 222,1188 203,1155 H150 Z" fill="#fff"/><g fill="#fff"><polygon points="292.6,1129.6 294.3,1134.2 299.3,1134.4 295.4,1137.5 296.7,1142.3 292.6,1139.5 288.5,1142.3 289.8,1137.5 285.9,1134.4 290.9,1134.2"/><polygon points="376.0,1113.0 377.7,1117.6 382.7,1117.8 378.8,1120.9 380.1,1125.7 376.0,1122.9 371.9,1125.7 373.2,1120.9 369.3,1117.8 374.3,1117.6"/><polygon points="471.0,1117.0 472.7,1121.6 477.7,1121.8 473.8,1124.9 475.1,1129.7 471.0,1126.9 466.9,1129.7 468.2,1124.9 464.3,1121.8 469.3,1121.6"/><polygon points="400.0,1145.0 401.7,1149.6 406.7,1149.8 402.8,1152.9 404.1,1157.7 400.0,1154.9 395.9,1157.7 397.2,1152.9 393.3,1149.8 398.3,1149.6"/><polygon points="338.0,1182.0 339.7,1186.6 344.7,1186.8 340.8,1189.9 342.1,1194.7 338.0,1191.9 333.9,1194.7 335.2,1189.9 331.3,1186.8 336.3,1186.6"/><polygon points="401.0,1181.0 402.7,1185.6 407.7,1185.8 403.8,1188.9 405.1,1193.7 401.0,1190.9 396.9,1193.7 398.2,1188.9 394.3,1185.8 399.3,1185.6"/><polygon points="453.6,1192.6 455.3,1197.2 460.3,1197.4 456.4,1200.5 457.7,1205.3 453.6,1202.5 449.5,1205.3 450.8,1200.5 446.9,1197.4 451.9,1197.2"/><polygon points="228.0,1218.6 229.7,1223.2 234.7,1223.4 230.8,1226.5 232.1,1231.3 228.0,1228.5 223.9,1231.3 225.2,1226.5 221.3,1223.4 226.3,1223.2"/><polygon points="270.0,1115.1 271.1,1118.1 274.3,1118.2 271.8,1120.2 272.6,1123.2 270.0,1121.5 267.4,1123.2 268.2,1120.2 265.7,1118.2 268.9,1118.1"/><polygon points="307.4,1106.1 308.5,1109.1 311.7,1109.2 309.2,1111.2 310.0,1114.2 307.4,1112.5 304.8,1114.2 305.6,1111.2 303.1,1109.2 306.3,1109.1"/><polygon points="318.6,1124.1 319.7,1127.1 322.9,1127.2 320.4,1129.2 321.2,1132.2 318.6,1130.5 316.0,1132.2 316.8,1129.2 314.3,1127.2 317.5,1127.1"/><polygon points="322.0,1137.5 323.1,1140.5 326.3,1140.6 323.8,1142.6 324.6,1145.6 322.0,1143.9 319.4,1145.6 320.2,1142.6 317.7,1140.6 320.9,1140.5"/><polygon points="354.0,1131.1 355.1,1134.1 358.3,1134.2 355.8,1136.2 356.6,1139.2 354.0,1137.5 351.4,1139.2 352.2,1136.2 349.7,1134.2 352.9,1134.1"/><polygon points="374.4,1141.5 375.5,1144.5 378.7,1144.6 376.2,1146.6 377.0,1149.6 374.4,1147.9 371.8,1149.6 372.6,1146.6 370.1,1144.6 373.3,1144.5"/><polygon points="406.4,1121.9 407.5,1124.9 410.7,1125.0 408.2,1127.0 409.0,1130.0 406.4,1128.3 403.8,1130.0 404.6,1127.0 402.1,1125.0 405.3,1124.9"/><polygon points="434.4,1124.1 435.5,1127.1 438.7,1127.2 436.2,1129.2 437.0,1132.2 434.4,1130.5 431.8,1132.2 432.6,1129.2 430.1,1127.2 433.3,1127.1"/><polygon points="442.0,1109.1 443.1,1112.1 446.3,1112.2 443.8,1114.2 444.6,1117.2 442.0,1115.5 439.4,1117.2 440.2,1114.2 437.7,1112.2 440.9,1112.1"/><polygon points="456.0,1146.1 457.1,1149.1 460.3,1149.2 457.8,1151.2 458.6,1154.2 456.0,1152.5 453.4,1154.2 454.2,1151.2 451.7,1149.2 454.9,1149.1"/><polygon points="292.0,1155.5 293.1,1158.5 296.3,1158.6 293.8,1160.6 294.6,1163.6 292.0,1161.9 289.4,1163.6 290.2,1160.6 287.7,1158.6 290.9,1158.5"/><polygon points="329.0,1156.5 330.1,1159.5 333.3,1159.6 330.8,1161.6 331.6,1164.6 329.0,1162.9 326.4,1164.6 327.2,1161.6 324.7,1159.6 327.9,1159.5"/><polygon points="338.0,1156.5 339.1,1159.5 342.3,1159.6 339.8,1161.6 340.6,1164.6 338.0,1162.9 335.4,1164.6 336.2,1161.6 333.7,1159.6 336.9,1159.5"/><polygon points="361.0,1166.9 362.1,1169.9 365.3,1170.0 362.8,1172.0 363.6,1175.0 361.0,1173.3 358.4,1175.0 359.2,1172.0 356.7,1170.0 359.9,1169.9"/><polygon points="386.6,1165.5 387.7,1168.5 390.9,1168.6 388.4,1170.6 389.2,1173.6 386.6,1171.9 384.0,1173.6 384.8,1170.6 382.3,1168.6 385.5,1168.5"/><polygon points="426.0,1155.1 427.1,1158.1 430.3,1158.2 427.8,1160.2 428.6,1163.2 426.0,1161.5 423.4,1163.2 424.2,1160.2 421.7,1158.2 424.9,1158.1"/><polygon points="465.0,1169.1 466.1,1172.1 469.3,1172.2 466.8,1174.2 467.6,1177.2 465.0,1175.5 462.4,1177.2 463.2,1174.2 460.7,1172.2 463.9,1172.1"/><polygon points="276.6,1167.9 277.7,1170.9 280.9,1171.0 278.4,1173.0 279.2,1176.0 276.6,1174.3 274.0,1176.0 274.8,1173.0 272.3,1171.0 275.5,1170.9"/><polygon points="308.6,1172.5 309.7,1175.5 312.9,1175.6 310.4,1177.6 311.2,1180.6 308.6,1178.9 306.0,1180.6 306.8,1177.6 304.3,1175.6 307.5,1175.5"/><polygon points="284.4,1179.5 285.5,1182.5 288.7,1182.6 286.2,1184.6 287.0,1187.6 284.4,1185.9 281.8,1187.6 282.6,1184.6 280.1,1182.6 283.3,1182.5"/><polygon points="367.0,1189.5 368.1,1192.5 371.3,1192.6 368.8,1194.6 369.6,1197.6 367.0,1195.9 364.4,1197.6 365.2,1194.6 362.7,1192.6 365.9,1192.5"/><polygon points="434.4,1189.1 435.5,1192.1 438.7,1192.2 436.2,1194.2 437.0,1197.2 434.4,1195.5 431.8,1197.2 432.6,1194.2 430.1,1192.2 433.3,1192.1"/><polygon points="228.0,1195.5 229.1,1198.5 232.3,1198.6 229.8,1200.6 230.6,1203.6 228.0,1201.9 225.4,1203.6 226.2,1200.6 223.7,1198.6 226.9,1198.5"/><polygon points="215.0,1205.5 216.1,1208.5 219.3,1208.6 216.8,1210.6 217.6,1213.6 215.0,1211.9 212.4,1213.6 213.2,1210.6 210.7,1208.6 213.9,1208.5"/><polygon points="269.6,1216.1 270.7,1219.1 273.9,1219.2 271.4,1221.2 272.2,1224.2 269.6,1222.5 267.0,1224.2 267.8,1221.2 265.3,1219.2 268.5,1219.1"/><polygon points="257.6,1235.5 258.7,1238.5 261.9,1238.6 259.4,1240.6 260.2,1243.6 257.6,1241.9 255.0,1243.6 255.8,1240.6 253.3,1238.6 256.5,1238.5"/><circle cx="360.4" cy="1106.6" r="1.6"/><circle cx="339.0" cy="1119.0" r="1.6"/><circle cx="414.0" cy="1113.6" r="1.6"/><circle cx="452.4" cy="1122.0" r="1.6"/><circle cx="391.0" cy="1131.6" r="1.6"/><circle cx="401.0" cy="1131.6" r="1.6"/><circle cx="345.0" cy="1137.6" r="1.6"/><circle cx="416.4" cy="1139.2" r="1.6"/><circle cx="267.0" cy="1145.2" r="1.6"/><circle cx="477.0" cy="1147.2" r="1.6"/><circle cx="351.6" cy="1153.6" r="1.6"/><circle cx="380.0" cy="1172.4" r="1.6"/><circle cx="434.0" cy="1171.0" r="1.6"/><circle cx="410.6" cy="1182.0" r="1.6"/><circle cx="382.0" cy="1190.6" r="1.6"/><circle cx="309.4" cy="1195.0" r="1.6"/><circle cx="317.0" cy="1204.6" r="1.6"/><circle cx="343.6" cy="1202.6" r="1.6"/><circle cx="476.4" cy="1196.8" r="1.6"/><circle cx="215.6" cy="1188.0" r="1.6"/><circle cx="247.0" cy="1218.0" r="1.6"/><circle cx="251.0" cy="1221.0" r="1.6"/><circle cx="290.0" cy="1235.0" r="1.6"/><circle cx="234.6" cy="1249.0" r="1.6"/></g><path d="M172,1316 L370,1364 L539,1284 L539,1276 L370,1354 L172,1308 Z" fill="#666"/><path d="M172,1287 L368,1322 L370,1356 L172,1316 Z" fill="#f7f7f7" stroke="#777" stroke-width="1.5"/><path d="M368,1322 L539,1254 L539,1280 L370,1356 Z" fill="#f7f7f7" stroke="#777" stroke-width="1.5"/><path d="M172,1287 L290,1249 L309,1244 L324,1246.5 L384,1255 L398,1260.5 L418,1260.5 L471,1272 L425,1300 L368,1322 Z" fill="#e31e24"/><path d="M471,1275 L540,1244 L539,1254.5 L425,1300 Z" fill="#f7f7f7"/><path d="M528,1257.5 L538.5,1253.5 L538.5,1256.5 Z" fill="#e31e24"/><path d="M306,1240 Q312,1232 330,1224 Q345,1214 362,1208 Q372,1204 385,1207 Q420,1212 447,1223 Q500,1226 540,1242 Q530,1252 510,1262 Q498,1270 488,1273 Q480,1274 470,1269 Q430,1262 400,1257 Q394,1262 388,1259 Q383,1254 370,1252 Q340,1247 314,1243 Z" fill="#fff" stroke="#fff" stroke-width="4"/><path d="M314,1242 Q350,1250 383,1255 Q388,1260 393,1259 Q396,1257 400,1255.5 M401,1257 Q440,1263 471,1270 Q478,1274 484,1273 Q494,1268 539,1245 M411,1213 Q430,1218 446,1225 M499,1228 Q520,1232 539,1241" fill="none" stroke="#6a6a6a" stroke-width="1.6"/><path d="M398,1243 Q408,1229 432,1228 Q414,1233 401,1246 Z" fill="#666"/><path d="M487,1258 Q498,1244 522,1243 Q505,1248 490,1260 Z" fill="#666"/><path d="M168,1330 L370,1378 L545,1294 M192,1324 L168,1331 L178,1350 M525,1293 L545,1294 L540,1316" fill="none" stroke="#e31e24" stroke-width="4"/><text x="552" y="1261" font-family="Liberation Sans" font-weight="bold" font-size="57" fill="#666" textLength="246" lengthAdjust="spacingAndGlyphs">272 x 140</text>
</svg></body></html>
